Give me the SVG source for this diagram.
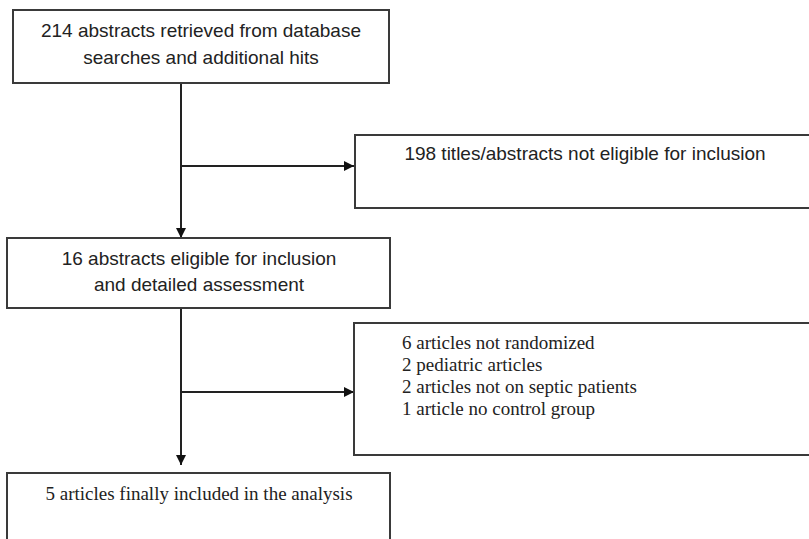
<svg xmlns="http://www.w3.org/2000/svg" width="809" height="539" viewBox="0 0 809 539">
<style>
.box{fill:#fff;stroke:#3a3a3a;stroke-width:2}
.sans{font-family:"Liberation Sans",Arial,sans-serif;font-size:19px;fill:#222}
.serif{font-family:"Liberation Serif","Times New Roman",serif;font-size:19px;fill:#222}
.line{stroke:#222;stroke-width:2;fill:none}
</style>
<defs>
<marker id="arr" viewBox="0 0 10 10" refX="10" refY="5" markerWidth="10" markerHeight="10" markerUnits="userSpaceOnUse" orient="auto">
<path d="M0,0 L10,5 L0,10 Z" fill="#111"/>
</marker>
</defs>
<rect width="809" height="539" fill="#fff"/>
<g id="connectors">
<line class="line" x1="181" y1="83" x2="181" y2="238" marker-end="url(#arr)"/>
<line class="line" x1="181" y1="166" x2="354" y2="166" marker-end="url(#arr)"/>
<line class="line" x1="181" y1="308" x2="181" y2="465" marker-end="url(#arr)"/>
<line class="line" x1="181" y1="392" x2="354" y2="392" marker-end="url(#arr)"/>
</g>
<g id="n1">
<rect class="box" x="13" y="10" width="376" height="73"/>
<text class="sans" text-anchor="middle" x="201" y="37">214 abstracts retrieved from database</text>
<text class="sans" text-anchor="middle" x="201" y="64">searches and additional hits</text>
</g>
<g id="n2">
<rect class="box" x="355" y="135" width="460" height="73"/>
<text class="sans" text-anchor="middle" x="585" y="160">198 titles/abstracts not eligible for inclusion</text>
</g>
<g id="n3">
<rect class="box" x="7" y="238" width="383" height="70"/>
<text class="sans" text-anchor="middle" x="199" y="265">16 abstracts eligible for inclusion</text>
<text class="sans" text-anchor="middle" x="199" y="291">and detailed assessment</text>
</g>
<g id="n4">
<rect class="box" x="354" y="323" width="460" height="132"/>
<text class="serif" x="402" y="349">6 articles not randomized</text>
<text class="serif" x="402" y="371">2 pediatric articles</text>
<text class="serif" x="402" y="393">2 articles not on septic patients</text>
<text class="serif" x="402" y="415">1 article no control group</text>
</g>
<g id="n5">
<rect class="box" x="7" y="473" width="383" height="80"/>
<text class="serif" text-anchor="middle" x="199" y="500">5 articles finally included in the analysis</text>
</g>
</svg>
